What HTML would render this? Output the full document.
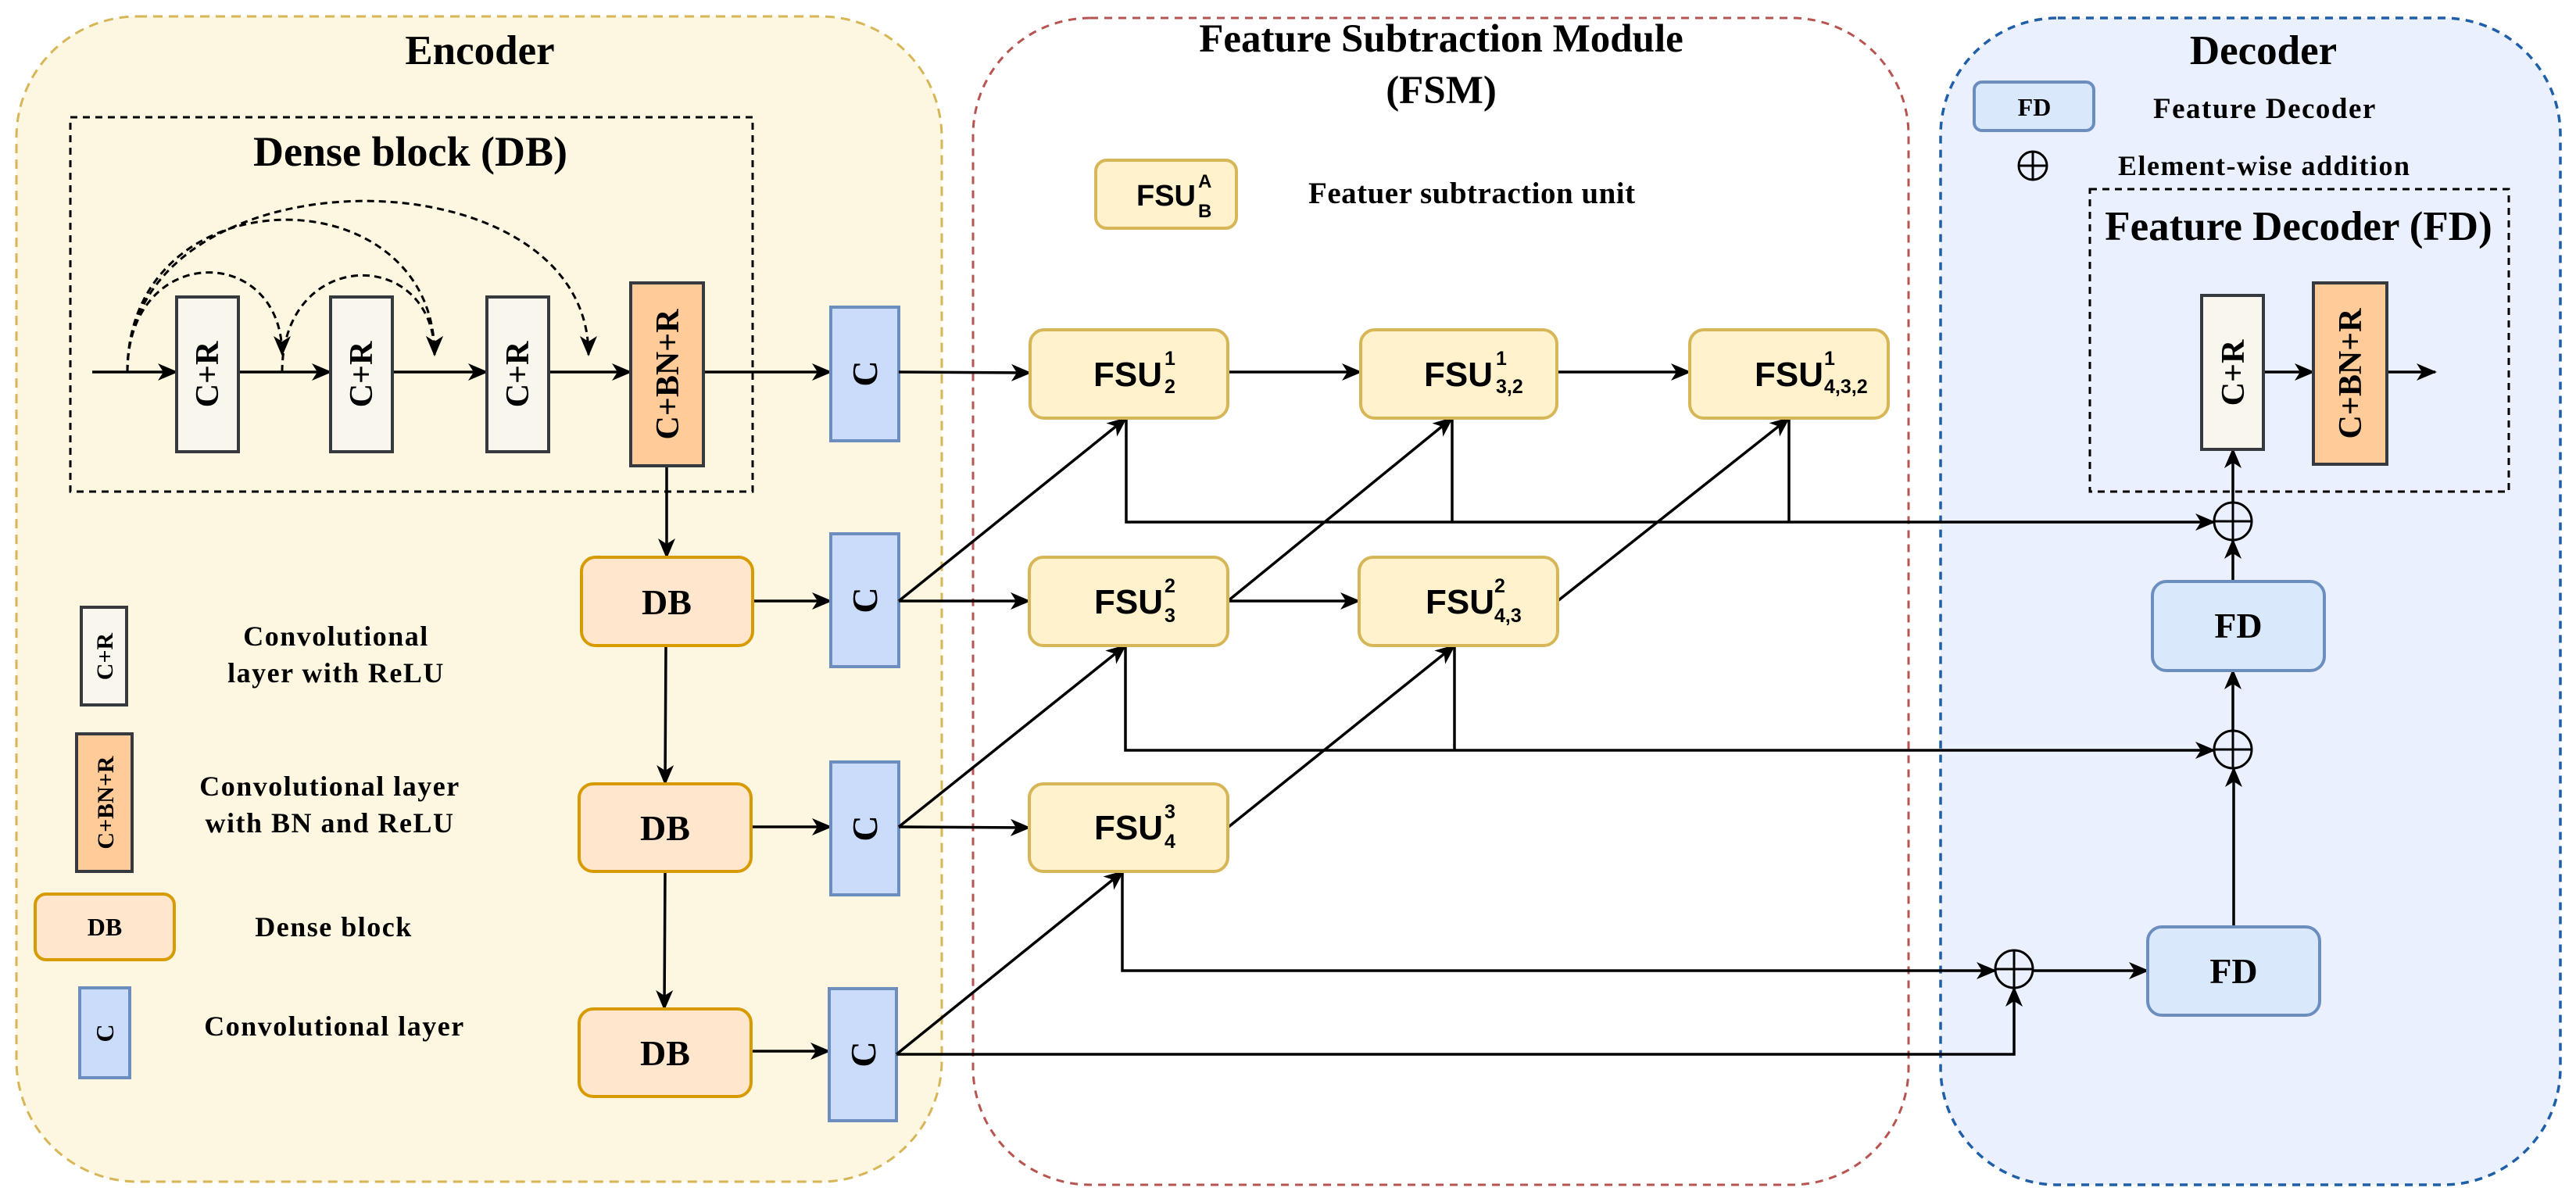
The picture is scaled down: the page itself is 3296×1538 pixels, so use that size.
<!DOCTYPE html>
<html><head><meta charset="utf-8"><style>
html,body{margin:0;padding:0;background:#fff;}
svg{display:block;}
.t{font-family:"Liberation Serif",serif;font-weight:bold;fill:#000;}
.s{font-family:"Liberation Sans",sans-serif;font-weight:bold;fill:#000;}
</style></head><body>
<svg width="3296" height="1538" viewBox="0 0 3296 1538" xmlns="http://www.w3.org/2000/svg">
<defs>
<marker id="a" markerUnits="userSpaceOnUse" markerWidth="26" markerHeight="22" refX="24" refY="11" orient="auto">
<path d="M0,0 L26,11 L0,22 L7,11 z" fill="#000"/>
</marker>
</defs>
<rect x="21" y="21" width="1184" height="1491" rx="155" fill="#fdf6e0" stroke="#d6b656" stroke-width="3" stroke-dasharray="12,8"/>
<rect x="1245" y="23" width="1197" height="1493" rx="150" fill="#fff" stroke="#b85450" stroke-width="3" stroke-dasharray="10,8"/>
<rect x="2483" y="23" width="793" height="1493" rx="150" fill="#eaf0fd" stroke="#1f5ea8" stroke-width="3.5" stroke-dasharray="10,8"/>
<text class="t" x="614" y="82" font-size="53" text-anchor="middle">Encoder</text>
<text class="t" x="1844" y="66" font-size="51" text-anchor="middle">Feature Subtraction Module</text>
<text class="t" x="1844" y="132" font-size="51" text-anchor="middle">(FSM)</text>
<text class="t" x="2896" y="82" font-size="53" text-anchor="middle">Decoder</text>

<rect x="90" y="150" width="873" height="479" fill="none" stroke="#000" stroke-width="3" stroke-dasharray="9,7"/>
<text class="t" x="525" y="212" font-size="54" text-anchor="middle">Dense block (DB)</text>
<g fill="none" stroke="#000" stroke-width="3" stroke-dasharray="9,6">
<path d="M163,476 C163,310 361,310 361,454" marker-end="url(#a)"/>
<path d="M163,476 C163,220 556,220 556,454" marker-end="url(#a)"/>
<path d="M163,476 C163,188 753,188 753,454" marker-end="url(#a)"/>
<path d="M361,476 C361,315 556,315 556,454" marker-end="url(#a)"/>
</g>
<g stroke="#000" stroke-width="3.5" fill="none">
<line x1="118" y1="476" x2="226" y2="476" marker-end="url(#a)"/>
<line x1="305" y1="476" x2="423" y2="476" marker-end="url(#a)"/>
<line x1="502" y1="476" x2="623" y2="476" marker-end="url(#a)"/>
<line x1="702" y1="476" x2="807" y2="476" marker-end="url(#a)"/>
<line x1="900" y1="476" x2="1063" y2="476" marker-end="url(#a)"/>
<line x1="853" y1="596" x2="853" y2="713" marker-end="url(#a)"/>
<line x1="852" y1="826" x2="851" y2="1003" marker-end="url(#a)"/>
<line x1="851" y1="1115" x2="850" y2="1291" marker-end="url(#a)"/>
<line x1="963" y1="769" x2="1063" y2="769" marker-end="url(#a)"/>
<line x1="961" y1="1058" x2="1063" y2="1058" marker-end="url(#a)"/>
<line x1="961" y1="1345" x2="1061" y2="1345" marker-end="url(#a)"/>
</g>
<g stroke="#36393d" stroke-width="4">
<rect x="226" y="380" width="79" height="198" fill="#f9f7ed"/>
<rect x="423" y="380" width="79" height="198" fill="#f9f7ed"/>
<rect x="623" y="380" width="79" height="198" fill="#f9f7ed"/>
<rect x="807" y="362" width="93" height="234" fill="#ffcc99"/>
</g>
<g class="t" font-size="42" text-anchor="middle">
<text transform="translate(279,479) rotate(-90)">C+R</text>
<text transform="translate(476,479) rotate(-90)">C+R</text>
<text transform="translate(676,479) rotate(-90)">C+R</text>
<text transform="translate(868,479) rotate(-90)">C+BN+R</text>
</g>
<g fill="#cadcfa" stroke="#6c8ebf" stroke-width="4">
<rect x="1063" y="393" width="87" height="171"/>
<rect x="1063" y="683" width="87" height="170"/>
<rect x="1063" y="975" width="87" height="170"/>
<rect x="1061" y="1265" width="86" height="169"/>
</g>
<g class="t" font-size="46" text-anchor="middle">
<text transform="translate(1122,478) rotate(-90)">C</text>
<text transform="translate(1122,768) rotate(-90)">C</text>
<text transform="translate(1122,1060) rotate(-90)">C</text>
<text transform="translate(1120,1349) rotate(-90)">C</text>
</g>
<g fill="#ffe6cc" stroke="#d79b00" stroke-width="4">
<rect x="744" y="713" width="219" height="113" rx="18"/>
<rect x="741" y="1003" width="220" height="112" rx="18"/>
<rect x="741" y="1291" width="220" height="112" rx="18"/>
<rect x="45" y="1144" width="178" height="84" rx="14"/>
</g>
<g class="t" font-size="46" text-anchor="middle">
<text x="853" y="786">DB</text>
<text x="851" y="1075">DB</text>
<text x="851" y="1363">DB</text>
</g>
<text class="t" x="134" y="1197" font-size="32" text-anchor="middle">DB</text>
<rect x="104" y="777" width="58" height="125" fill="#f9f7ed" stroke="#36393d" stroke-width="4"/>
<text class="t" transform="translate(144,840) rotate(-90)" font-size="30" text-anchor="middle">C+R</text>
<rect x="98" y="939" width="71" height="176" fill="#ffcc99" stroke="#36393d" stroke-width="4"/>
<text class="t" transform="translate(145,1027) rotate(-90)" font-size="30" text-anchor="middle">C+BN+R</text>
<rect x="102" y="1264" width="64" height="115" fill="#cadcfa" stroke="#6c8ebf" stroke-width="4"/>
<text class="t" transform="translate(145,1322) rotate(-90)" font-size="32" text-anchor="middle">C</text>
<g class="t" font-size="36" text-anchor="middle" letter-spacing="1.5">
<text x="430" y="826">Convolutional</text>
<text x="430" y="873">layer with ReLU</text>
<text x="422" y="1018">Convolutional layer</text>
<text x="422" y="1065">with BN and ReLU</text>
<text x="427" y="1198">Dense block</text>
<text x="428" y="1325">Convolutional layer</text>
</g>

<g stroke="#000" stroke-width="3.5" fill="none">
<line x1="1150" y1="476" x2="1318" y2="477" marker-end="url(#a)"/>
<line x1="1150" y1="769" x2="1317" y2="769" marker-end="url(#a)"/>
<line x1="1150" y1="1058" x2="1317" y2="1059" marker-end="url(#a)"/>
<line x1="1150" y1="769" x2="1441" y2="535" marker-end="url(#a)"/>
<line x1="1150" y1="1058" x2="1440" y2="826" marker-end="url(#a)"/>
<line x1="1147" y1="1349" x2="1437" y2="1115" marker-end="url(#a)"/>
<line x1="1571" y1="476" x2="1741" y2="476" marker-end="url(#a)"/>
<line x1="1992" y1="476" x2="2162" y2="476" marker-end="url(#a)"/>
<line x1="1571" y1="769" x2="1739" y2="769" marker-end="url(#a)"/>
<line x1="1571" y1="769" x2="1858" y2="535" marker-end="url(#a)"/>
<line x1="1572" y1="1058" x2="1861" y2="826" marker-end="url(#a)"/>
<line x1="1993" y1="769" x2="2289" y2="535" marker-end="url(#a)"/>
<polyline points="1441,535 1441,668 2833,668" marker-end="url(#a)"/>
<line x1="1858" y1="535" x2="1858" y2="668"/>
<line x1="2289" y1="535" x2="2289" y2="668"/>
<polyline points="1440,826 1440,960 2833,960" marker-end="url(#a)"/>
<line x1="1861" y1="826" x2="1861" y2="960"/>
<polyline points="1436,1115 1436,1242 2553,1242" marker-end="url(#a)"/>
<polyline points="1147,1349 2577,1349 2577,1264" marker-end="url(#a)"/>
<line x1="2601" y1="1242" x2="2748" y2="1242" marker-end="url(#a)"/>
<line x1="2858" y1="1186" x2="2858" y2="983" marker-end="url(#a)"/>
<line x1="2857" y1="935" x2="2857" y2="858" marker-end="url(#a)"/>
<line x1="2857" y1="744" x2="2857" y2="691" marker-end="url(#a)"/>
<line x1="2857" y1="643" x2="2857" y2="575" marker-end="url(#a)"/>
<line x1="2896" y1="476" x2="2960" y2="476" marker-end="url(#a)"/>
<line x1="3054" y1="476" x2="3116" y2="476" marker-end="url(#a)"/>
</g>
<g fill="#fff2cc" stroke="#d6b656" stroke-width="4">
<rect x="1318" y="422" width="253" height="113" rx="18"/>
<rect x="1741" y="422" width="251" height="113" rx="18"/>
<rect x="2162" y="422" width="254" height="113" rx="18"/>
<rect x="1317" y="713" width="254" height="113" rx="18"/>
<rect x="1739" y="713" width="254" height="113" rx="18"/>
<rect x="1317" y="1003" width="254" height="112" rx="18"/>
<rect x="1402" y="205" width="180" height="87" rx="14"/>
</g>
<g class="s">
<text x="1399" y="494" font-size="44">FSU</text>
<text x="1490" y="467" font-size="25">1</text><text x="1490" y="503" font-size="25">2</text>
<text x="1822" y="494" font-size="44">FSU</text>
<text x="1914" y="467" font-size="25">1</text><text x="1914" y="503" font-size="25">3,2</text>
<text x="2245" y="494" font-size="44">FSU</text>
<text x="2334" y="467" font-size="25">1</text><text x="2334" y="503" font-size="25">4,3,2</text>
<text x="1400" y="785" font-size="44">FSU</text>
<text x="1490" y="758" font-size="25">2</text><text x="1490" y="796" font-size="25">3</text>
<text x="1824" y="785" font-size="44">FSU</text>
<text x="1912" y="758" font-size="25">2</text><text x="1912" y="796" font-size="25">4,3</text>
<text x="1400" y="1074" font-size="44">FSU</text>
<text x="1490" y="1047" font-size="25">3</text><text x="1490" y="1085" font-size="25">4</text>
<text x="1454" y="263" font-size="38">FSU</text>
<text x="1533" y="240" font-size="24">A</text><text x="1533" y="278" font-size="24">B</text>
</g>
<text class="t" x="1674" y="260" font-size="39" letter-spacing="0.5">Featuer  subtraction unit</text>

<rect x="2526" y="105" width="153" height="62" rx="10" fill="#dae8fc" stroke="#6c8ebf" stroke-width="4"/>
<text class="t" x="2603" y="148" font-size="32" text-anchor="middle">FD</text>
<text class="t" x="2755" y="151" font-size="37" letter-spacing="1.5">Feature Decoder</text>
<circle cx="2601" cy="212" r="18" fill="none" stroke="#000" stroke-width="3"/>
<line x1="2583" y1="212" x2="2619" y2="212" stroke="#000" stroke-width="3"/>
<line x1="2601" y1="194" x2="2601" y2="230" stroke="#000" stroke-width="3"/>
<text class="t" x="2710" y="224" font-size="36" letter-spacing="1.5">Element-wise addition</text>
<rect x="2674" y="242" width="536" height="387" fill="none" stroke="#000" stroke-width="3" stroke-dasharray="9,7"/>
<text class="t" x="2941" y="307" font-size="53" text-anchor="middle">Feature Decoder (FD)</text>
<rect x="2817" y="378" width="79" height="197" fill="#f9f7ed" stroke="#36393d" stroke-width="4"/>
<rect x="2960" y="362" width="94" height="232" fill="#ffcc99" stroke="#36393d" stroke-width="4"/>
<text class="t" transform="translate(2871,477) rotate(-90)" font-size="42" text-anchor="middle">C+R</text>
<text class="t" transform="translate(3021,478) rotate(-90)" font-size="42" text-anchor="middle">C+BN+R</text>
<g fill="#dae8fc" stroke="#6c8ebf" stroke-width="4">
<rect x="2754" y="744" width="220" height="114" rx="18"/>
<rect x="2748" y="1186" width="220" height="113" rx="18"/>
</g>
<text class="t" x="2864" y="816" font-size="46" text-anchor="middle">FD</text>
<text class="t" x="2858" y="1258" font-size="46" text-anchor="middle">FD</text>
<g fill="none" stroke="#000" stroke-width="3">
<circle cx="2857" cy="667" r="24"/><line x1="2833" y1="667" x2="2881" y2="667"/><line x1="2857" y1="643" x2="2857" y2="691"/>
<circle cx="2857" cy="959" r="24"/><line x1="2833" y1="959" x2="2881" y2="959"/><line x1="2857" y1="935" x2="2857" y2="983"/>
<circle cx="2577" cy="1240" r="24"/><line x1="2553" y1="1240" x2="2601" y2="1240"/><line x1="2577" y1="1216" x2="2577" y2="1264"/>
</g>
</svg>
</body></html>
